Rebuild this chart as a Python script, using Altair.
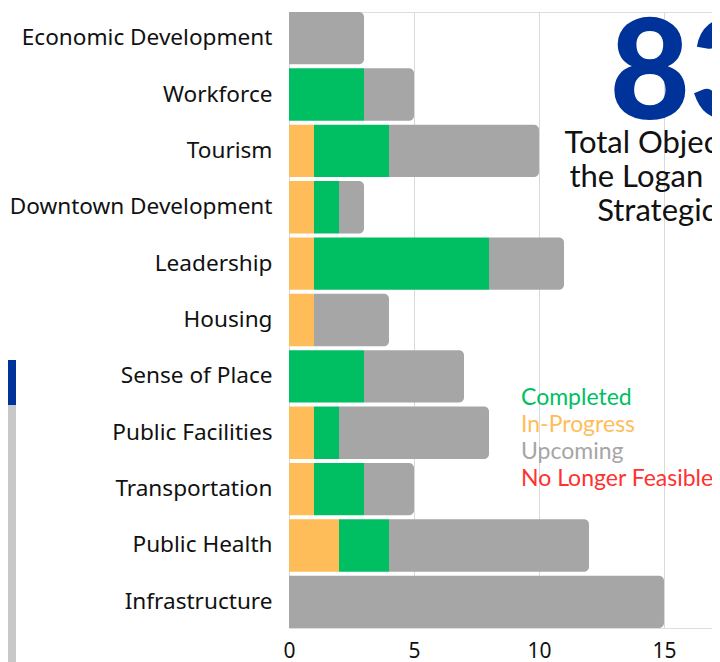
import altair as alt
import pandas as pd

categories = ["Economic Development", "Workforce", "Tourism", "Downtown Development",
              "Leadership", "Housing", "Sense of Place", "Public Facilities",
              "Transportation", "Public Health", "Infrastructure"]
in_progress = [0, 0, 1, 1, 1, 1, 0, 1, 1, 2, 0]
completed =   [0, 3, 3, 1, 7, 0, 3, 1, 2, 2, 0]
upcoming =    [3, 2, 6, 1, 3, 3, 4, 6, 2, 8, 15]

statuses = ["Completed", "In-Progress", "Upcoming", "No Longer Feasible"]
colors = ["#00BF63", "#FFBD59", "#A6A6A6", "#FF3131"]
x_ticks = [0, 5, 10, 15]
total_label = "83"
title_lines = "Total Objectives in\nthe Logan County\nStrategic Plan"

rows = []
for i, c in enumerate(categories):
    for order, (s, vals) in enumerate([("In-Progress", in_progress),
                                       ("Completed", completed),
                                       ("Upcoming", upcoming)]):
        if vals[i] > 0:
            rows.append({"category": c, "status": s, "value": vals[i], "order": order})
df = pd.DataFrame(rows)

color_scale = alt.Scale(domain=statuses, range=colors)
y_enc = alt.Y("category:N", sort=categories, title=None,
              scale=alt.Scale(paddingInner=0.0714, paddingOuter=0),
              axis=alt.Axis(labelFont="Noto Sans", labelFontSize=22.6, labelColor="#111111",
                            labelPadding=17, labelLimit=400, domain=False, ticks=False,
                            grid=False))
x_scale = alt.Scale(domain=[0, 16.92], nice=False, zero=True)
x_axis = alt.Axis(values=x_ticks, labelFont="Noto Sans", labelFontSize=21, labelColor="#111111",
                  labelPadding=12, labelFlush=False, domain=False, ticks=False, grid=True,
                  gridColor="#D9D9D9", gridWidth=1, title=None)

base = alt.Chart(df).transform_stack(
    stack="value", groupby=["category"], as_=["x0", "x1"],
    sort=[alt.SortField("order", order="ascending")])

bars_main = base.transform_filter(alt.datum.status != "Upcoming").mark_bar().encode(
    x=alt.X("x0:Q", scale=x_scale, axis=x_axis),
    x2="x1:Q",
    y=y_enc,
    color=alt.Color("status:N", scale=color_scale, legend=None),
)
bars_end = base.transform_filter(alt.datum.status == "Upcoming").mark_bar(
    cornerRadiusTopRight=5, cornerRadiusBottomRight=5).encode(
    x=alt.X("x0:Q", scale=x_scale, axis=x_axis),
    x2="x1:Q",
    y=y_enc,
    color=alt.Color("status:N", scale=color_scale, legend=None),
)

one = pd.DataFrame({"a": [0]})
big = alt.Chart(one).mark_text(font="Lato", fontWeight=900, fontSize=139, color="#003399",
                               align="center", baseline="alphabetic").encode(
    x=alt.value(401), y=alt.value(107), text=alt.value(total_label))
title = alt.Chart(one).mark_text(font="Lato", fontSize=31, color="#111111", align="center",
                                 baseline="alphabetic", lineBreak="\n", lineHeight=34).encode(
    x=alt.value(401), y=alt.value(141), text=alt.value(title_lines))

legend_layers = []
for k, (s, col) in enumerate(zip(statuses, colors)):
    legend_layers.append(
        alt.Chart(one).mark_text(font="Lato", fontSize=23, align="left",
                                 baseline="alphabetic", color=col).encode(
            x=alt.value(232), y=alt.value(393 + 27 * k), text=alt.value(s)))

deco_blue = alt.Chart(one).mark_rect(color="#003399").encode(
    x=alt.value(-281), x2=alt.value(-273), y=alt.value(348), y2=alt.value(393))
deco_gray = alt.Chart(one).mark_rect(color="#C8C8C8").encode(
    x=alt.value(-281), x2=alt.value(-273), y=alt.value(393), y2=alt.value(660))

chart = alt.layer(bars_main, bars_end, big, title, *legend_layers, deco_blue, deco_gray
).properties(
    width=423, height=616,
    autosize=alt.AutoSizeParams(type="none"),
    padding={"left": 281, "top": 4, "right": 0, "bottom": 34},
).configure_view(stroke=None).configure(background="white")

chart.save("out.html", embed_options={"renderer": "svg", "actions": False})
